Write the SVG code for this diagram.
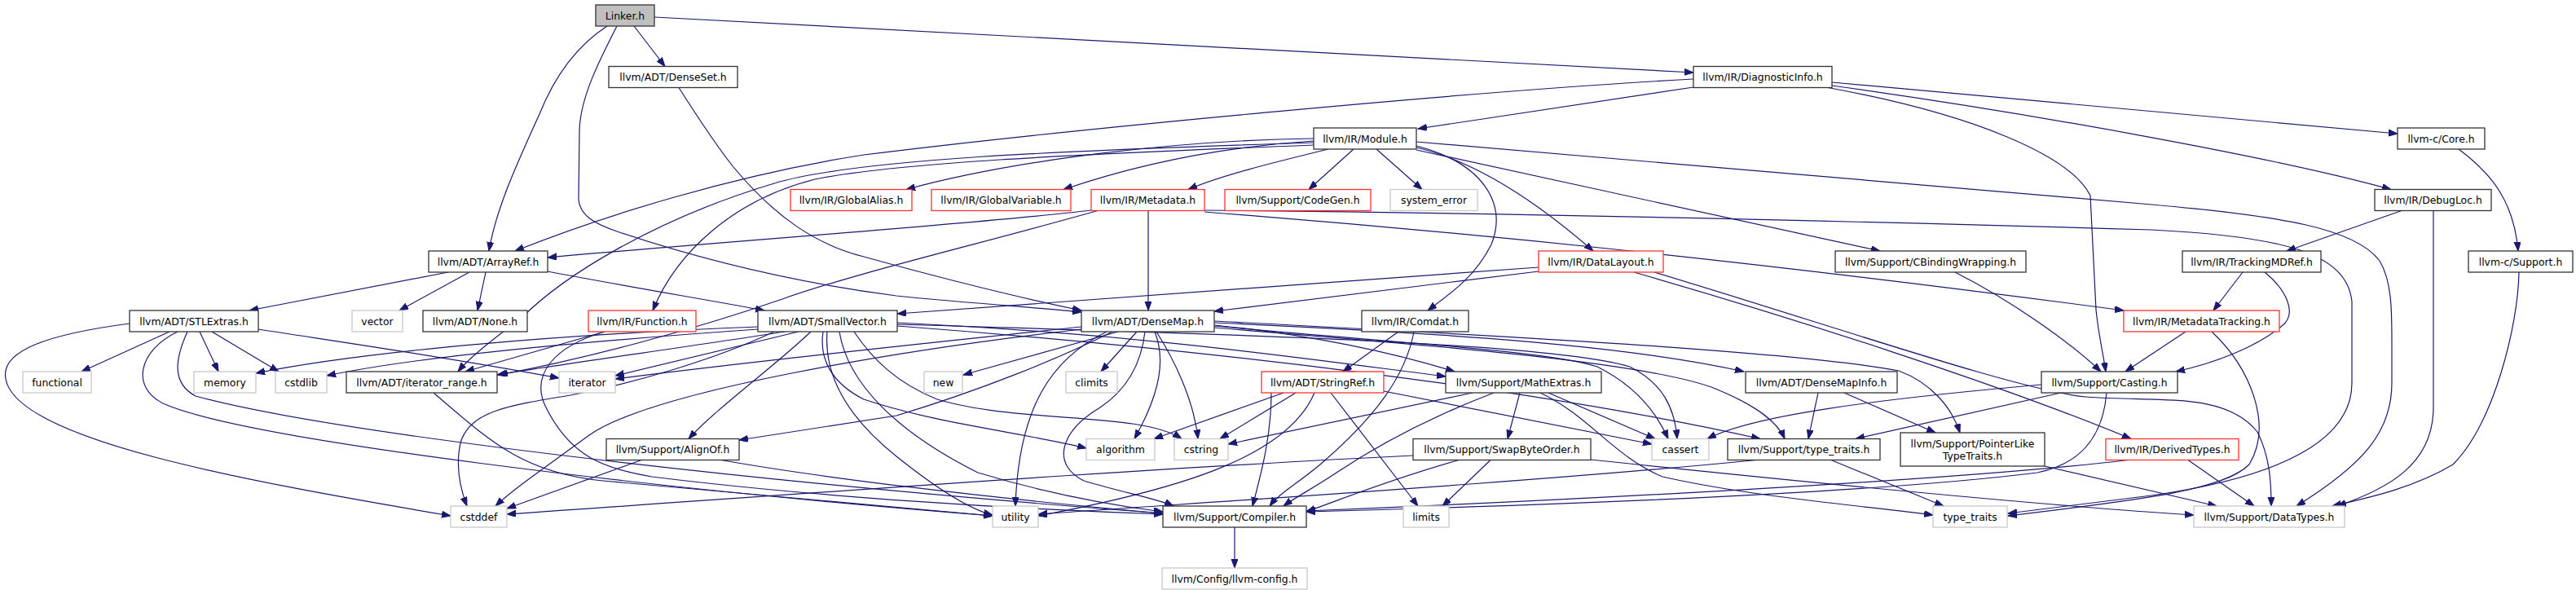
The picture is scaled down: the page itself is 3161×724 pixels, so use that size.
<svg xmlns="http://www.w3.org/2000/svg" width="3161" height="724" viewBox="0 0 3161 724">
<defs>
<marker id="a" markerWidth="12" markerHeight="10" refX="11" refY="4" orient="auto" markerUnits="userSpaceOnUse"><path d="M0,0 L11,4 L0,8 z" fill="#191970" stroke="#191970" stroke-width="1"/></marker>
</defs>
<style>
.e path{fill:none;stroke:#191970;stroke-width:1.2;marker-end:url(#a)}
rect{fill:#fff;stroke:#333;stroke-width:1.3}
.r rect{stroke:#ff3030}
.g rect{stroke:#c8c8c8}
.f rect{fill:#bfbfbf}
text{font-family:"DejaVu Sans","Liberation Sans",sans-serif;font-size:12.4px;text-anchor:middle;fill:#000}
</style>
<rect x="0" y="0" width="3161" height="724" style="fill:#fff;stroke:none"/>
<g class="e" id="edges">
<path d="M778,32 L816,81.5"/>
<path d="M745,32 C705,58 680,95 662,140 C630,210 608,260 600,308"/>
<path d="M757,32 C735,75 712,120 711,160 L710,245 C712,265 730,275 760,285 C880,325 1000,350 1100,363 C1200,373 1280,378 1327,383"/>
<path d="M833,107.5 C860,150 880,180 900,205 C950,265 1000,300 1060,315 C1150,340 1250,365 1327,381"/>
<path d="M803,21 L2078,89"/>
<path d="M2078,107 L1740,158"/>
<path d="M2078,97 C1800,112 1300,160 1060,190 C900,215 740,265 632,308"/>
<path d="M2248,101 L2942,164"/>
<path d="M2248,105 C2500,140 2800,195 2934,232.5"/>
<path d="M2243,107.5 C2420,140 2540,190 2565,240 L2572,380 C2575,410 2580,430 2584,456"/>
<path d="M1612,170 C1450,172 1250,195 1112,232.5"/>
<path d="M1612,173 C1500,180 1400,200 1305,232.5"/>
<path d="M1630,183 C1560,200 1500,215 1458,232.5"/>
<path d="M1661,183 L1606,232.5"/>
<path d="M1689,183 L1745,232.5"/>
<path d="M1738,181 C1820,200 1900,260 1955,308"/>
<path d="M1738,184 L2307,308"/>
<path d="M1738,174 L2640,251 C2800,265 2890,280 2920,320 C2935,345 2935,380 2935,420 L2935,470 C2935,530 2900,570 2818,621"/>
<path d="M1612,178 C1300,190 1100,200 1000,220 C900,245 830,310 801,381"/>
<path d="M1612,175 C1300,185 1050,195 950,225 C800,270 690,340 640,390 C600,420 575,440 562,456"/>
<path d="M1738,179 C1820,200 1850,250 1830,300 C1810,340 1780,360 1752,381"/>
<path d="M3017,183 C3060,215 3085,250 3090,308"/>
<path d="M2947,258.5 L2806,308"/>
<path d="M2986,258.5 L2986,500 C2986,570 2930,600 2868,621"/>
<path d="M3091,334 C3090,400 3060,520 3010,570 C2960,600 2900,612 2862,621"/>
<path d="M2752,334 L2716,381"/>
<path d="M2779,334 C2805,355 2820,385 2800,400 C2770,425 2720,445 2670,456"/>
<path d="M1339,258 C1200,275 900,295 672,316"/>
<path d="M1347,258.5 C1200,300 1050,335 960,367 C850,405 720,440 612,460"/>
<path d="M1409,258.5 L1409,381"/>
<path d="M1478,260 C1800,285 2150,320 2606,381"/>
<path d="M1478,258 C1900,262 2400,275 2640,282 C2800,290 2880,310 2886,370 L2886,470 C2886,540 2800,585 2640,608 L2464,630"/>
<path d="M1888,328 L1101,385"/>
<path d="M1888,333 C1750,350 1600,368 1490,382"/>
<path d="M2005,334 C2200,390 2450,470 2615,538.5"/>
<path d="M2030,334 C2250,400 2480,480 2560,487 C2650,494 2730,480 2770,530 C2785,560 2787,590 2787,621"/>
<path d="M2399,334 C2470,370 2540,420 2578,456"/>
<path d="M550,334 L306,381"/>
<path d="M576,334 L490,381"/>
<path d="M596,334 L586,381"/>
<path d="M672,333 C760,350 880,370 938,381"/>
<path d="M208,407 L100,456"/>
<path d="M245,407 L268,456"/>
<path d="M260,407 L342,456"/>
<path d="M317,404 C420,420 560,440 686,464"/>
<path d="M159,397 C60,410 0,430 7,465 C20,540 300,590 553,633"/>
<path d="M218,407 C170,430 160,475 200,495 C300,540 800,600 1218,633"/>
<path d="M230,407 C215,440 210,470 240,486 C400,530 900,590 1427,630"/>
<path d="M742,407 L571,456"/>
<path d="M742,407 C680,425 650,460 670,500 C700,560 740,575 800,585 C1000,610 1250,625 1427,631"/>
<path d="M930,401 C700,410 450,430 314,458"/>
<path d="M930,404 C700,420 500,440 401,461"/>
<path d="M963,407 C850,425 700,445 610,460"/>
<path d="M980,407 L755,461"/>
<path d="M995,407 C950,450 880,500 845,538.5"/>
<path d="M950,407 C880,440 780,470 700,485 C620,498 580,505 566,540 C558,570 565,600 573,621"/>
<path d="M1010,407 C1005,440 1020,470 1060,490 C1150,520 1250,530 1333,550"/>
<path d="M1048,407 C1070,440 1100,470 1150,490 C1250,520 1400,505 1450,538.5"/>
<path d="M1015,407 C1010,470 1050,520 1100,560 C1150,600 1190,625 1218,632"/>
<path d="M1030,407 C1040,470 1100,530 1200,580 C1300,610 1380,622 1427,628"/>
<path d="M1101,396 C1400,410 1600,440 1774,462"/>
<path d="M1101,400 C1500,430 1900,480 2160,538.5"/>
<path d="M1101,398 C1500,410 1900,420 2000,450 C2040,470 2055,500 2058,538.5"/>
<path d="M1372,407 L1182,460"/>
<path d="M1395,407 L1351,456"/>
<path d="M1365,407 C1300,440 1200,480 1100,510 L907,540"/>
<path d="M1358,407 C1290,440 1250,500 1246,621"/>
<path d="M1405,407 C1400,450 1380,480 1350,500 C1300,530 1290,570 1330,590 C1380,605 1420,612 1440,621"/>
<path d="M1417,407 C1430,440 1425,480 1392,538.5"/>
<path d="M1419,407 C1440,440 1465,490 1470,538.5"/>
<path d="M1327,401 C1150,420 950,440 755,465"/>
<path d="M1327,404 C1100,430 800,480 723,534 C660,580 630,600 608,621"/>
<path d="M1490,396 C1800,410 2000,425 2140,456"/>
<path d="M1490,399 C1600,410 1700,430 1785,456"/>
<path d="M1490,402 C1700,420 2000,440 2100,475 C2150,495 2180,515 2190,538.5"/>
<path d="M1490,394 C1800,410 2200,430 2330,455 C2370,470 2395,500 2405,531"/>
<path d="M1490,400 C1700,420 1900,430 1960,450 C2000,470 2030,500 2047,538.5"/>
<path d="M1716,407 L1648,456"/>
<path d="M1735,407 C1725,460 1690,510 1620,570 C1590,595 1570,605 1558,621"/>
<path d="M2682,407 L2608,456"/>
<path d="M2714,407 C2760,450 2790,520 2760,570 C2730,600 2640,612 2464,633"/>
<path d="M1575,482 L1416,538.5"/>
<path d="M1590,482 L1497,538.5"/>
<path d="M1613,482 C1580,560 1450,600 1274,633"/>
<path d="M1633,482 L1740,621"/>
<path d="M1698,480 L2027,545"/>
<path d="M1560,482 C1560,540 1545,590 1537,621"/>
<path d="M1865,482 L1850,538.5"/>
<path d="M1900,482 L2031,538.5"/>
<path d="M1807,482 C1700,505 1600,525 1507,545"/>
<path d="M1833,482 C1760,510 1700,540 1640,580 C1610,600 1590,610 1575,621"/>
<path d="M1890,482 C1950,510 1980,560 2040,585 C2150,610 2300,622 2372,632"/>
<path d="M2231,482 L2219,538.5"/>
<path d="M2263,482 L2375,531"/>
<path d="M2529,482 L2277,538.5"/>
<path d="M2505,472 C2300,490 2150,510 2095,538.5"/>
<path d="M2585,482 C2580,540 2550,570 2500,580 C2300,605 1900,620 1603,628"/>
<path d="M2247,564.5 L2385,621"/>
<path d="M2155,564.5 C1900,590 1500,615 1274,631"/>
<path d="M2509,572 L2720,621"/>
<path d="M2685,564.5 L2766,621"/>
<path d="M2611,564.5 C2400,590 1900,615 1603,627"/>
<path d="M787,564.5 L622,624"/>
<path d="M885,564.5 C1000,585 1200,610 1427,630"/>
<path d="M1829,564.5 L1770,621"/>
<path d="M1790,564.5 C1700,590 1640,615 1603,628"/>
<path d="M1734,559 C1400,575 1000,605 622,631"/>
<path d="M1952,564 C2200,590 2500,620 2692,632"/>
<path d="M532,482 C600,540 640,580 740,590 L1218,633"/>
<path d="M1515,647 L1515,697"/>
</g>
<g id="linker" class="f"><rect x="731" y="6" width="72" height="26"/><text x="767" y="23.5">Linker.h</text></g>
<g id="denseset"><rect x="747" y="81.5" width="158" height="26"/><text x="826" y="99">llvm/ADT/DenseSet.h</text></g>
<g id="diag"><rect x="2078" y="81.5" width="170" height="26"/><text x="2163" y="99">llvm/IR/DiagnosticInfo.h</text></g>
<g id="module"><rect x="1612" y="157" width="126" height="26"/><text x="1675" y="174.5">llvm/IR/Module.h</text></g>
<g id="core"><rect x="2942" y="157" width="107" height="26"/><text x="2995.5" y="174.5">llvm-c/Core.h</text></g>
<g id="galias" class="r"><rect x="970" y="232.5" width="149" height="26"/><text x="1044.5" y="250">llvm/IR/GlobalAlias.h</text></g>
<g id="gvar" class="r"><rect x="1143" y="232.5" width="171" height="26"/><text x="1228.5" y="250">llvm/IR/GlobalVariable.h</text></g>
<g id="metadata" class="r"><rect x="1339" y="232.5" width="139" height="26"/><text x="1408.5" y="250">llvm/IR/Metadata.h</text></g>
<g id="codegen" class="r"><rect x="1503" y="232.5" width="179" height="26"/><text x="1592.5" y="250">llvm/Support/CodeGen.h</text></g>
<g id="syserr" class="g"><rect x="1706" y="232.5" width="107" height="26"/><text x="1759.5" y="250">system_error</text></g>
<g id="debugloc"><rect x="2914" y="232.5" width="143" height="26"/><text x="2985.5" y="250">llvm/IR/DebugLoc.h</text></g>
<g id="arrayref"><rect x="526" y="308" width="146" height="26"/><text x="599" y="325.5">llvm/ADT/ArrayRef.h</text></g>
<g id="datalayout" class="r"><rect x="1888" y="308" width="153" height="26"/><text x="1964.5" y="325.5">llvm/IR/DataLayout.h</text></g>
<g id="cbinding"><rect x="2252" y="308" width="234" height="26"/><text x="2369" y="325.5">llvm/Support/CBindingWrapping.h</text></g>
<g id="tracking"><rect x="2678" y="308" width="170" height="26"/><text x="2763" y="325.5">llvm/IR/TrackingMDRef.h</text></g>
<g id="support"><rect x="3029" y="308" width="128" height="26"/><text x="3093" y="325.5">llvm-c/Support.h</text></g>
<g id="stlextras"><rect x="159" y="381" width="158" height="26"/><text x="238" y="398.5">llvm/ADT/STLExtras.h</text></g>
<g id="vector" class="g"><rect x="432" y="381" width="62" height="26"/><text x="463" y="398.5">vector</text></g>
<g id="none"><rect x="519" y="381" width="128" height="26"/><text x="583" y="398.5">llvm/ADT/None.h</text></g>
<g id="function" class="r"><rect x="722" y="381" width="132" height="26"/><text x="788" y="398.5">llvm/IR/Function.h</text></g>
<g id="smallvector"><rect x="930" y="381" width="171" height="26"/><text x="1015.5" y="398.5">llvm/ADT/SmallVector.h</text></g>
<g id="densemap"><rect x="1327" y="381" width="163" height="26"/><text x="1408.5" y="398.5">llvm/ADT/DenseMap.h</text></g>
<g id="comdat"><rect x="1671" y="381" width="131" height="26"/><text x="1736.5" y="398.5">llvm/IR/Comdat.h</text></g>
<g id="mdtracking" class="r"><rect x="2606" y="381" width="191" height="26"/><text x="2701.5" y="398.5">llvm/IR/MetadataTracking.h</text></g>
<g id="functional" class="g"><rect x="28" y="456" width="84" height="26"/><text x="70" y="473.5">functional</text></g>
<g id="memory" class="g"><rect x="238" y="456" width="76" height="26"/><text x="276" y="473.5">memory</text></g>
<g id="cstdlib" class="g"><rect x="338" y="456" width="63" height="26"/><text x="369.5" y="473.5">cstdlib</text></g>
<g id="itrange"><rect x="425" y="456" width="185" height="26"/><text x="517.5" y="473.5">llvm/ADT/iterator_range.h</text></g>
<g id="iterator" class="g"><rect x="686" y="456" width="69" height="26"/><text x="720.5" y="473.5">iterator</text></g>
<g id="new" class="g"><rect x="1134" y="456" width="47" height="26"/><text x="1157.5" y="473.5">new</text></g>
<g id="climits" class="g"><rect x="1308" y="456" width="63" height="26"/><text x="1339.5" y="473.5">climits</text></g>
<g id="stringref" class="r"><rect x="1548" y="456" width="150" height="26"/><text x="1623" y="473.5">llvm/ADT/StringRef.h</text></g>
<g id="mathextras"><rect x="1774" y="456" width="191" height="26"/><text x="1869.5" y="473.5">llvm/Support/MathExtras.h</text></g>
<g id="densemapinfo"><rect x="2142" y="456" width="186" height="26"/><text x="2235" y="473.5">llvm/ADT/DenseMapInfo.h</text></g>
<g id="casting"><rect x="2505" y="456" width="167" height="26"/><text x="2588.5" y="473.5">llvm/Support/Casting.h</text></g>
<g id="alignof"><rect x="744" y="538.5" width="163" height="26"/><text x="825.5" y="556">llvm/Support/AlignOf.h</text></g>
<g id="algorithm" class="g"><rect x="1333" y="538.5" width="84" height="26"/><text x="1375" y="556">algorithm</text></g>
<g id="cstring" class="g"><rect x="1441" y="538.5" width="66" height="26"/><text x="1474" y="556">cstring</text></g>
<g id="swapbyte"><rect x="1734" y="538.5" width="218" height="26"/><text x="1843" y="556">llvm/Support/SwapByteOrder.h</text></g>
<g id="cassert" class="g"><rect x="2027" y="538.5" width="70" height="26"/><text x="2062" y="556">cassert</text></g>
<g id="typetraitsh"><rect x="2120" y="538.5" width="187" height="26"/><text x="2213.5" y="556">llvm/Support/type_traits.h</text></g>
<g id="pointerlike"><rect x="2332" y="531" width="177" height="41"/><text x="2420.5" y="549">llvm/Support/PointerLike</text><text x="2420.5" y="563.5">TypeTraits.h</text></g>
<g id="derived" class="r"><rect x="2584" y="538.5" width="163" height="26"/><text x="2665.5" y="556">llvm/IR/DerivedTypes.h</text></g>
<g id="cstddef" class="g"><rect x="553" y="621" width="69" height="26"/><text x="587.5" y="638.5">cstddef</text></g>
<g id="utility" class="g"><rect x="1218" y="621" width="56" height="26"/><text x="1246" y="638.5">utility</text></g>
<g id="compiler"><rect x="1427" y="621" width="176" height="26"/><text x="1515" y="638.5">llvm/Support/Compiler.h</text></g>
<g id="limits" class="g"><rect x="1722" y="621" width="56" height="26"/><text x="1750" y="638.5">limits</text></g>
<g id="typetraits" class="g"><rect x="2372" y="621" width="91" height="26"/><text x="2417.5" y="638.5">type_traits</text></g>
<g id="datatypes" class="g"><rect x="2692" y="621" width="185" height="26"/><text x="2784.5" y="638.5">llvm/Support/DataTypes.h</text></g>
<g id="llvmconfig" class="g"><rect x="1426" y="697" width="178" height="26"/><text x="1515" y="714.5">llvm/Config/llvm-config.h</text></g>
</svg>
